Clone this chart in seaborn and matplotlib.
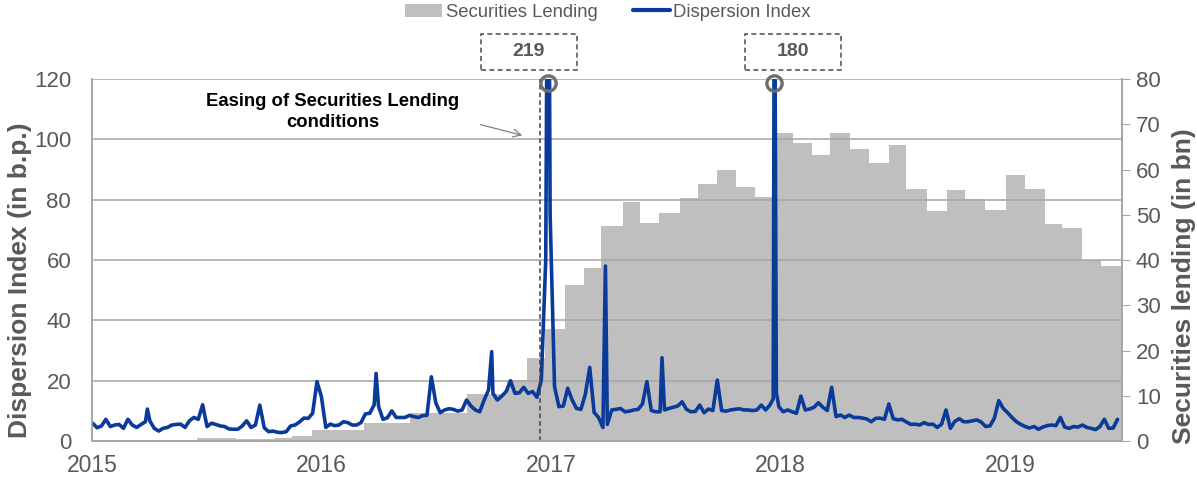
import numpy as np
import pandas as pd
import matplotlib
matplotlib.use("Agg")
import matplotlib.pyplot as plt
import matplotlib.dates as mdates
from matplotlib.patches import Patch, Rectangle
from matplotlib.lines import Line2D
import seaborn as sns

# Dispersion index (b.p.), weekly readings from 2015-01-02
disp_start = "2015-01-02"
disp_weekly = [
    5.9, 4.4, 5.0, 7.2, 4.8, 5.3, 5.5, 4.2, 7.2, 5.3, 4.5, 5.5, 6.4, 6.7, 4.2, 3.3,
    4.2, 4.5, 5.3, 5.5, 5.6, 4.5, 6.7, 7.8, 7.2, 12.0, 4.8, 5.9, 5.5, 5.0, 4.8, 4.0,
    3.9, 3.9, 5.0, 6.7, 4.5, 5.3, 11.9, 4.4, 3.1, 3.3, 2.9, 2.8, 3.1, 5.0, 5.3, 6.3,
    7.6, 7.5, 9.2, 19.7, 14.7, 4.5, 5.6, 5.1, 5.3, 6.4, 6.1, 5.3, 5.3, 6.1, 9.0, 9.2,
    12.0, 11.4, 7.2, 7.7, 10.0, 7.8, 7.8, 7.8, 8.5, 8.1, 7.8, 8.4, 8.5, 21.3, 12.7, 9.4,
    10.3, 10.7, 10.5, 9.9, 10.3, 13.6, 11.6, 10.3, 9.7, 13.6, 16.9, 15.8, 13.6, 14.9, 16.4, 20.0,
    15.8, 16.0, 17.8, 15.8, 16.4, 14.5, 20.2, 60.0, 75.0, 18.0, 11.4, 11.6, 17.5, 13.6, 10.8, 10.5,
    15.5, 24.4, 9.5, 7.8, 4.5, 5.5, 10.3, 10.5, 10.8, 9.7, 9.9, 10.3, 10.5, 12.3, 19.7, 10.1,
    9.7, 9.7, 10.3, 10.8, 11.2, 11.6, 13.0, 10.5, 9.7, 9.8, 11.9, 9.4, 10.6, 10.1, 20.2, 10.1,
    9.9, 10.3, 10.5, 10.7, 10.3, 10.3, 10.1, 10.3, 11.9, 10.3, 12.0, 180.0, 11.4, 9.7, 10.3, 9.7,
    9.2, 14.9, 10.3, 10.6, 11.2, 12.7, 11.2, 10.1, 17.8, 8.1, 8.6, 7.8, 8.6, 7.8, 7.8, 7.6,
    7.3, 6.4, 7.5, 7.6, 7.2, 12.3, 7.4, 7.0, 7.2, 6.3, 5.5, 5.6, 5.3, 6.1, 5.5, 5.6,
    4.5, 5.6, 10.3, 4.2, 6.5, 7.4, 6.4, 6.4, 6.7, 7.0, 6.3, 4.8, 5.0, 7.6, 13.4, 10.8,
    9.4, 7.8, 6.4, 5.5, 4.8, 4.3, 4.8, 3.9, 4.6, 5.1, 5.3, 5.1, 7.8, 4.6, 4.2, 4.8,
    4.6, 5.3, 4.5, 4.2, 3.8, 4.8, 7.2, 4.2, 4.3, 7.2,
]
# daily spikes between the weekly readings
spike_dates = ["2015-03-30", "2016-03-28", "2016-09-28", "2016-12-27",
               "2017-03-28", "2017-06-26", "2017-12-20", "2017-12-25"]
spike_values = [10.6, 22.4, 29.6, 219.0, 58.0, 27.6, 14.0, 16.0]

# Securities lending (bn), step changes
lending_dates = [
    "2015-06-17", "2015-08-18", "2015-10-19", "2015-11-16", "2015-12-17", "2016-03-08",
    "2016-05-21", "2016-08-19", "2016-10-23", "2016-11-23", "2016-12-22", "2017-01-23",
    "2017-02-22", "2017-03-21", "2017-04-25", "2017-05-22", "2017-06-22", "2017-07-24",
    "2017-08-23", "2017-09-22", "2017-10-22", "2017-11-21", "2017-12-20", "2018-01-20",
    "2018-02-19", "2018-03-21", "2018-04-22", "2018-05-22", "2018-06-22", "2018-07-20",
    "2018-08-21", "2018-09-22", "2018-10-21", "2018-11-22", "2018-12-25", "2019-01-24",
    "2019-02-25", "2019-03-25", "2019-04-25", "2019-05-25", "2019-06-27",
]
lending_values = [
    0.6, 0.4, 0.6, 1.1, 2.4, 3.9,
    6.3, 10.5, 13.5, 18.4, 24.7, 34.4,
    38.3, 47.5, 52.8, 48.2, 50.4, 53.7,
    56.8, 59.9, 56.1, 53.9, 68.0, 65.8,
    63.2, 68.0, 64.5, 61.4, 65.4, 55.6,
    50.9, 55.5, 53.5, 51.0, 58.8, 55.6,
    47.9, 47.1, 40.1, 38.6, 43.6,
]
x_start, x_end = "2015-01-01", "2019-06-28"
year_ticks = ["2015", "2016", "2017", "2018", "2019"]

peak_labels = ["219", "180"]
peak_dates = ["2016-12-27", "2017-12-22"]
easing_date = "2016-12-14"

BLUE = "#0a3a9a"
AREA = "#bfbfbf"
TXT = "#595959"
GRID = "#a6a6a6"

sns.set_style("white")
plt.rcParams["font.family"] = ["Liberation Sans", "DejaVu Sans"]

weekly = pd.DataFrame({
    "date": pd.date_range(disp_start, periods=len(disp_weekly), freq="7D"),
    "value": disp_weekly,
})
spikes = pd.DataFrame({"date": pd.to_datetime(spike_dates), "value": spike_values})
disp = pd.concat([weekly, spikes]).sort_values("date").reset_index(drop=True)

lend_x = pd.to_datetime(lending_dates + [x_end])
lend_y = lending_values + [lending_values[-1]]

fig = plt.figure(figsize=(11.97, 4.79), dpi=100)
ax = fig.add_axes([0.0769, 0.0793, 0.9373 - 0.0769, 0.835 - 0.0793])
ax2 = ax.twinx()

ax2.fill_between(lend_x, lend_y, step="post", color=AREA, linewidth=0)
ax.set_zorder(ax2.get_zorder() + 1)
ax.patch.set_visible(False)

sns.lineplot(data=disp, x="date", y="value", ax=ax, color=BLUE, linewidth=2.6, sort=True)

ax.set_xlim(pd.Timestamp(x_start), pd.Timestamp(x_end))
ax.set_ylim(0, 120)
ax2.set_ylim(0, 80)
ax.set_yticks(np.arange(0, 121, 20))
ax2.set_yticks(np.arange(0, 81, 10))
ax.set_xticks(pd.to_datetime([y + "-01-01" for y in year_ticks]))
ax.xaxis.set_major_formatter(mdates.DateFormatter("%Y"))

ax.grid(axis="y", color=GRID, linewidth=1.1)
ax.grid(axis="x", visible=False)
for a in (ax, ax2):
    a.spines["top"].set_visible(False)
    for side in ("left", "right", "bottom"):
        a.spines[side].set_color(GRID)
        a.spines[side].set_linewidth(1.2)
ax.tick_params(axis="y", length=0, labelsize=16, labelcolor=TXT, pad=15)
ax.tick_params(axis="x", length=6, color=GRID, labelsize=16.5, labelcolor=TXT, direction="out", pad=3)
ax2.tick_params(axis="y", length=6, color=GRID, labelsize=16, labelcolor=TXT, direction="out", pad=4)

ax.set_xlabel("")
ax.set_ylabel("Dispersion Index (in b.p.)", fontsize=19, fontweight="bold", color=TXT)
ax2.set_ylabel("Securities lending (in bn)", fontsize=19, fontweight="bold", color=TXT)
ax.yaxis.set_label_coords(-0.058, 0.445)
ax2.yaxis.set_label_coords(1.0485, 0.428)

# easing line, note and arrow
ax.axvline(pd.Timestamp(easing_date), ymin=0, ymax=1, color="#404040", linestyle=(0, (3, 2)), linewidth=1.1)
ax.text(pd.Timestamp("2016-01-19"), 109.0, "Easing of Securities Lending\nconditions",
        ha="center", va="center", fontsize=13.3, fontweight="bold", color="black", linespacing=1.3)
ax.annotate("", xy=(pd.Timestamp("2016-11-20"), 101.1), xytext=(pd.Timestamp("2016-09-06"), 105.1),
            arrowprops=dict(arrowstyle="->", color="#808080", lw=0.9, mutation_scale=14))

# peak markers and labels
box_x = [0.4018, 0.6224]
for lab, d, bx in zip(peak_labels, peak_dates, box_x):
    ax.plot([pd.Timestamp(d)], [118.8], marker="o", ms=11, mfc="none", mec="#6e6e6e", mew=2.4,
            clip_on=False, zorder=5)
    fig.patches.append(Rectangle((bx, 0.8539), 0.0805, 0.0752, transform=fig.transFigure,
                                 fill=False, edgecolor="#595959", linestyle=(0, (3, 2)), linewidth=1.2))
    fig.text(bx + 0.04, 0.8915, lab, ha="center", va="center", fontsize=14, fontweight="bold", color=TXT)

handles = [Patch(facecolor=AREA, edgecolor="none", label="Securities Lending"),
           Line2D([0], [0], color=BLUE, linewidth=3, label="Dispersion Index")]
leg = fig.legend(handles=handles, loc="upper center", bbox_to_anchor=(0.508, 1.027), ncol=2,
                 frameon=False, fontsize=13.3, handlelength=2.0, handletextpad=0.2, columnspacing=1.9)
for t in leg.get_texts():
    t.set_color(TXT)

fig.savefig("out.png", dpi=100)
